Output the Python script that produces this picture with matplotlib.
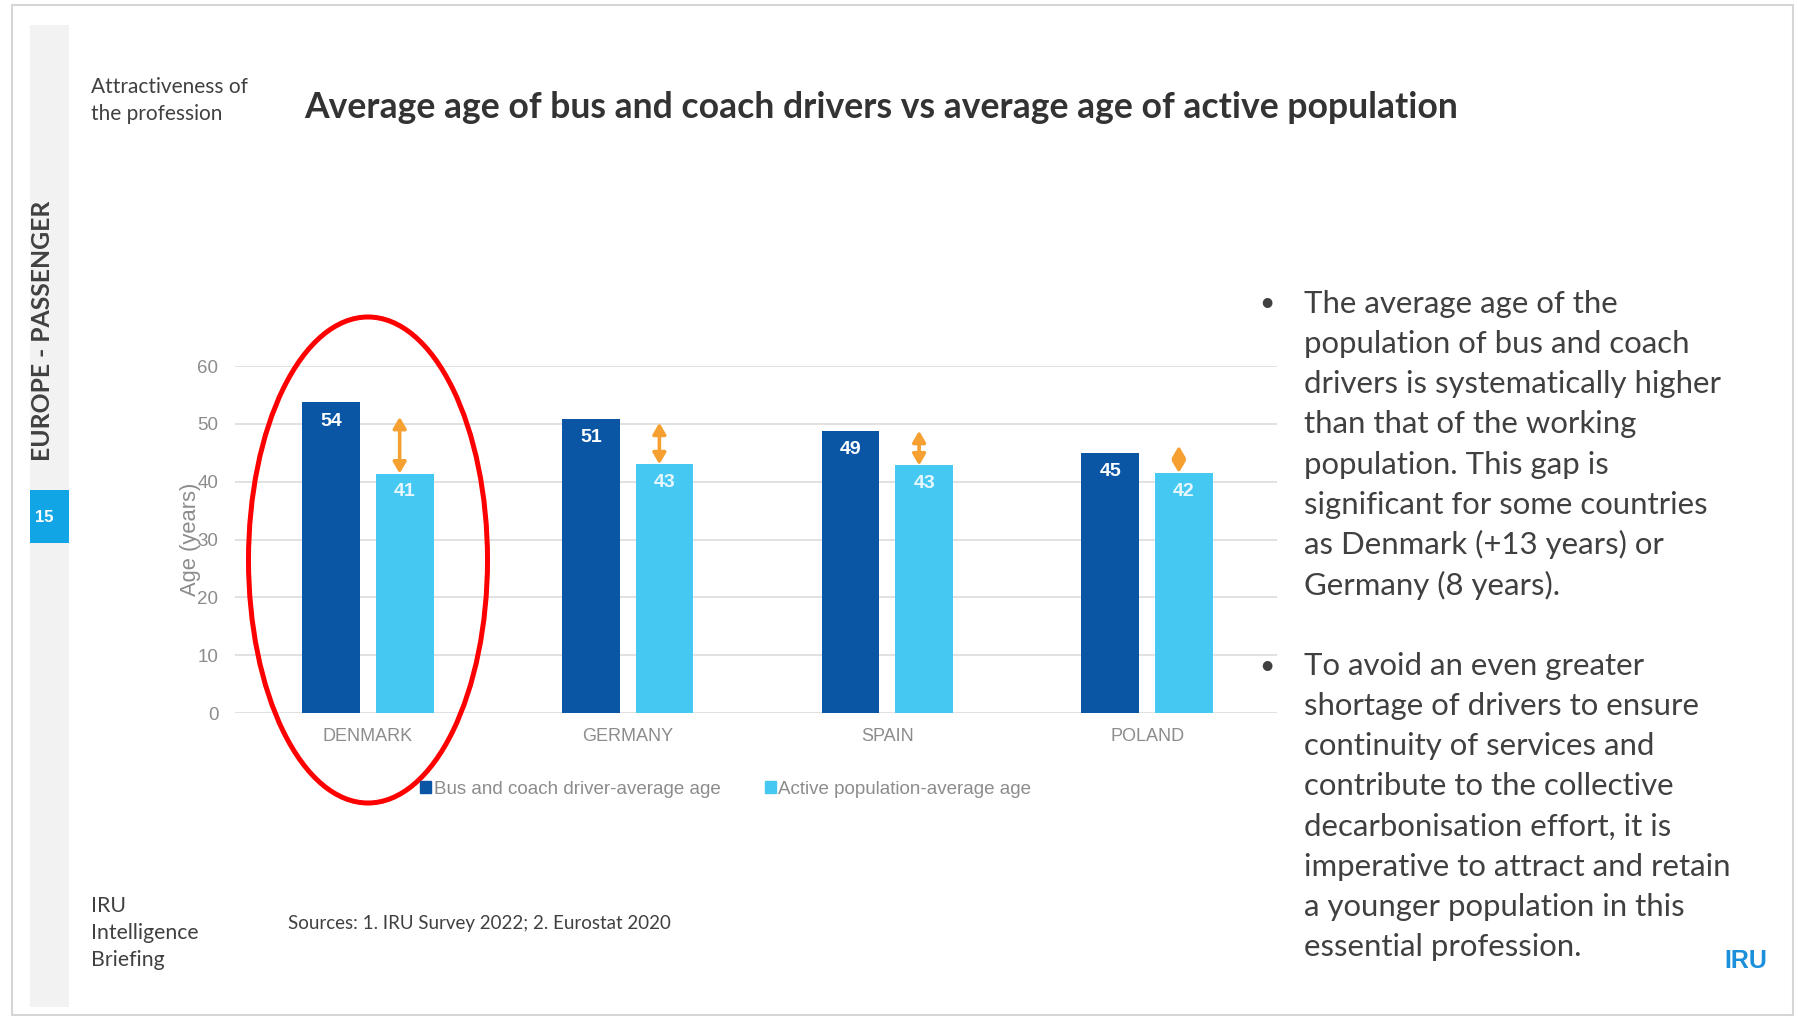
import matplotlib
matplotlib.use("Agg")
import matplotlib.pyplot as plt
from matplotlib.patches import Rectangle, Ellipse, Patch
import numpy as np

# data
countries = ["DENMARK", "GERMANY", "SPAIN", "POLAND"]
driver_age = [53.7, 50.9, 48.8, 45.0]
active_age = [41.4, 43.0, 42.8, 41.5]
arrow_top = [51.2, 50.2, 48.8, 46.2]
series_names = ["Bus and coach driver-average age", "Active population-average age"]
yticks = [0, 10, 20, 30, 40, 50, 60]

bullet1 = ["The average age of the",
           "population of bus and coach",
           "drivers is systematically higher",
           "than that of the working",
           "population. This gap is",
           "significant for some countries",
           "as Denmark (+13 years) or",
           "Germany (8 years)."]
bullet2 = ["To avoid an even greater",
           "shortage of drivers to ensure",
           "continuity of services and",
           "contribute to the collective",
           "decarbonisation effort, it is",
           "imperative to attract and retain",
           "a younger population in this",
           "essential profession."]

DARK = "#0A55A4"
LIGHT = "#45C9F2"
ORANGE = "#F5A030"
GREY_TXT = "#8C8C8C"
SLIDE_TXT = "#404040"
SLIDE_FONT = ["Lato", "DejaVu Sans"]
CHART_FONT = ["Liberation Sans", "DejaVu Sans"]

W, H = 1799, 1022
fig = plt.figure(figsize=(W / 100, H / 100), dpi=100)


def px(x, y):
    return x / W, 1 - y / H


# slide frame, side band and page number
fig.add_artist(Rectangle(px(12, 1015), (1793 - 12) / W, (1015 - 5) / H,
                         transform=fig.transFigure, fill=False, ec="#D6D6D6", lw=1.5))
fig.add_artist(Rectangle(px(30, 1007), 39 / W, (1007 - 25) / H,
                         transform=fig.transFigure, fc="#F2F2F2", ec="none"))
fig.add_artist(Rectangle(px(30, 543), 39 / W, 53 / H,
                         transform=fig.transFigure, fc="#12A5E5", ec="none"))
fig.text(*px(44, 517), "15", color="white", fontsize=12, fontweight="bold",
         family=CHART_FONT, ha="center", va="center")
fig.text(*px(43, 331), "EUROPE - PASSENGER", rotation=90, color=SLIDE_TXT, fontsize=17.8,
         fontweight="bold", family=SLIDE_FONT, ha="center", va="center")

fig.text(*px(91, 87), "Attractiveness of", color=SLIDE_TXT, fontsize=15,
         family=SLIDE_FONT, ha="left", va="center")
fig.text(*px(91, 114), "the profession", color=SLIDE_TXT, fontsize=15,
         family=SLIDE_FONT, ha="left", va="center")
fig.text(*px(304, 108), "Average age of bus and coach drivers vs average age of active population",
         color="#333333", fontsize=25.6, fontweight="bold", family=SLIDE_FONT,
         ha="left", va="center")

for i, s in enumerate(["IRU", "Intelligence", "Briefing"]):
    fig.text(*px(91, 906 + i * 27), s, color=SLIDE_TXT, fontsize=15.3,
             family=SLIDE_FONT, ha="left", va="center")
fig.text(*px(288, 923), "Sources: 1. IRU Survey 2022; 2. Eurostat 2020", color=SLIDE_TXT,
         fontsize=13.5, family=SLIDE_FONT, ha="left", va="center")

# bullet text on the right
for block, y0 in [(bullet1, 304), (bullet2, 666)]:
    fig.text(*px(1267, y0), "\u2022", color=SLIDE_TXT, fontsize=19, family=SLIDE_FONT,
             ha="center", va="center")
    for i, line in enumerate(block):
        fig.text(*px(1304, y0 + i * 40.15), line, color=SLIDE_TXT, fontsize=22.4,
                 family=SLIDE_FONT, ha="left", va="center")

# IRU logo
fig.text(*px(1746, 961), "IRU", color="#1C8FDA", fontsize=18, fontweight="bold",
         family=CHART_FONT, ha="center", va="center")

# chart
ax = fig.add_axes([235 / W, 1 - 713 / H, (1277 - 235) / W, (713 - 366) / H])
x = np.arange(len(countries))
off, bw = 0.142, 0.222
ax.bar(x - off, driver_age, bw, color=DARK, zorder=2)
ax.bar(x + off, active_age, bw, color=LIGHT, zorder=2)

for xi, d, a, t in zip(x, driver_age, active_age, arrow_top):
    ax.annotate(f"{d:.0f}", (xi - off, d), xytext=(0, -13.5), textcoords="offset points",
                ha="center", va="center", color="white", fontsize=14, fontweight="bold",
                family=CHART_FONT)
    ax.annotate(f"{a:.0f}", (xi + off, a), xytext=(0, -13), textcoords="offset points",
                ha="center", va="center", color="#E8F7FD", fontsize=14, fontweight="bold",
                family=CHART_FONT)
    ax.annotate("", xy=(xi + off - 0.02, t), xytext=(xi + off - 0.02, a),
                arrowprops=dict(arrowstyle="<|-|>,head_length=0.6,head_width=0.35",
                                color=ORANGE, lw=2.6, mutation_scale=11,
                                shrinkA=0, shrinkB=0), zorder=3)

ax.set_xlim(-0.512, 3.5)
ax.set_ylim(0, 60)
ax.set_yticks(yticks)
ax.set_xticks(x)
ax.set_xticklabels(countries)
for lab in ax.get_xticklabels() + ax.get_yticklabels():
    lab.set_family(CHART_FONT)
ax.tick_params(axis="y", length=0, colors=GREY_TXT, labelsize=13.5, pad=12)
ax.tick_params(axis="x", length=0, colors=GREY_TXT, labelsize=13, pad=11)
ax.yaxis.grid(True, color="#DCDCDC", lw=1.2, zorder=0)
ax.set_axisbelow(True)
for s in ax.spines.values():
    s.set_visible(False)
ax.set_ylabel("Age (years)", color=GREY_TXT, fontsize=15.8, family=CHART_FONT)
ax.yaxis.set_label_coords(-0.033, 0.5)

handles = [Patch(color=DARK), Patch(color=LIGHT)]
fig.legend(handles, series_names, loc="center", bbox_to_anchor=px(726, 789), ncol=2,
           frameon=False, handlelength=0.55, handleheight=0.55, handletextpad=0.15,
           columnspacing=2.4, prop={"family": CHART_FONT, "size": 13.5}, labelcolor=GREY_TXT)

# red highlight around Denmark
fig.add_artist(Ellipse(px(368, 560), 239 / W, 486 / H, transform=fig.transFigure,
                       fill=False, ec="#FF0000", lw=3.6))

fig.savefig("out.png", dpi=100, facecolor="white")
